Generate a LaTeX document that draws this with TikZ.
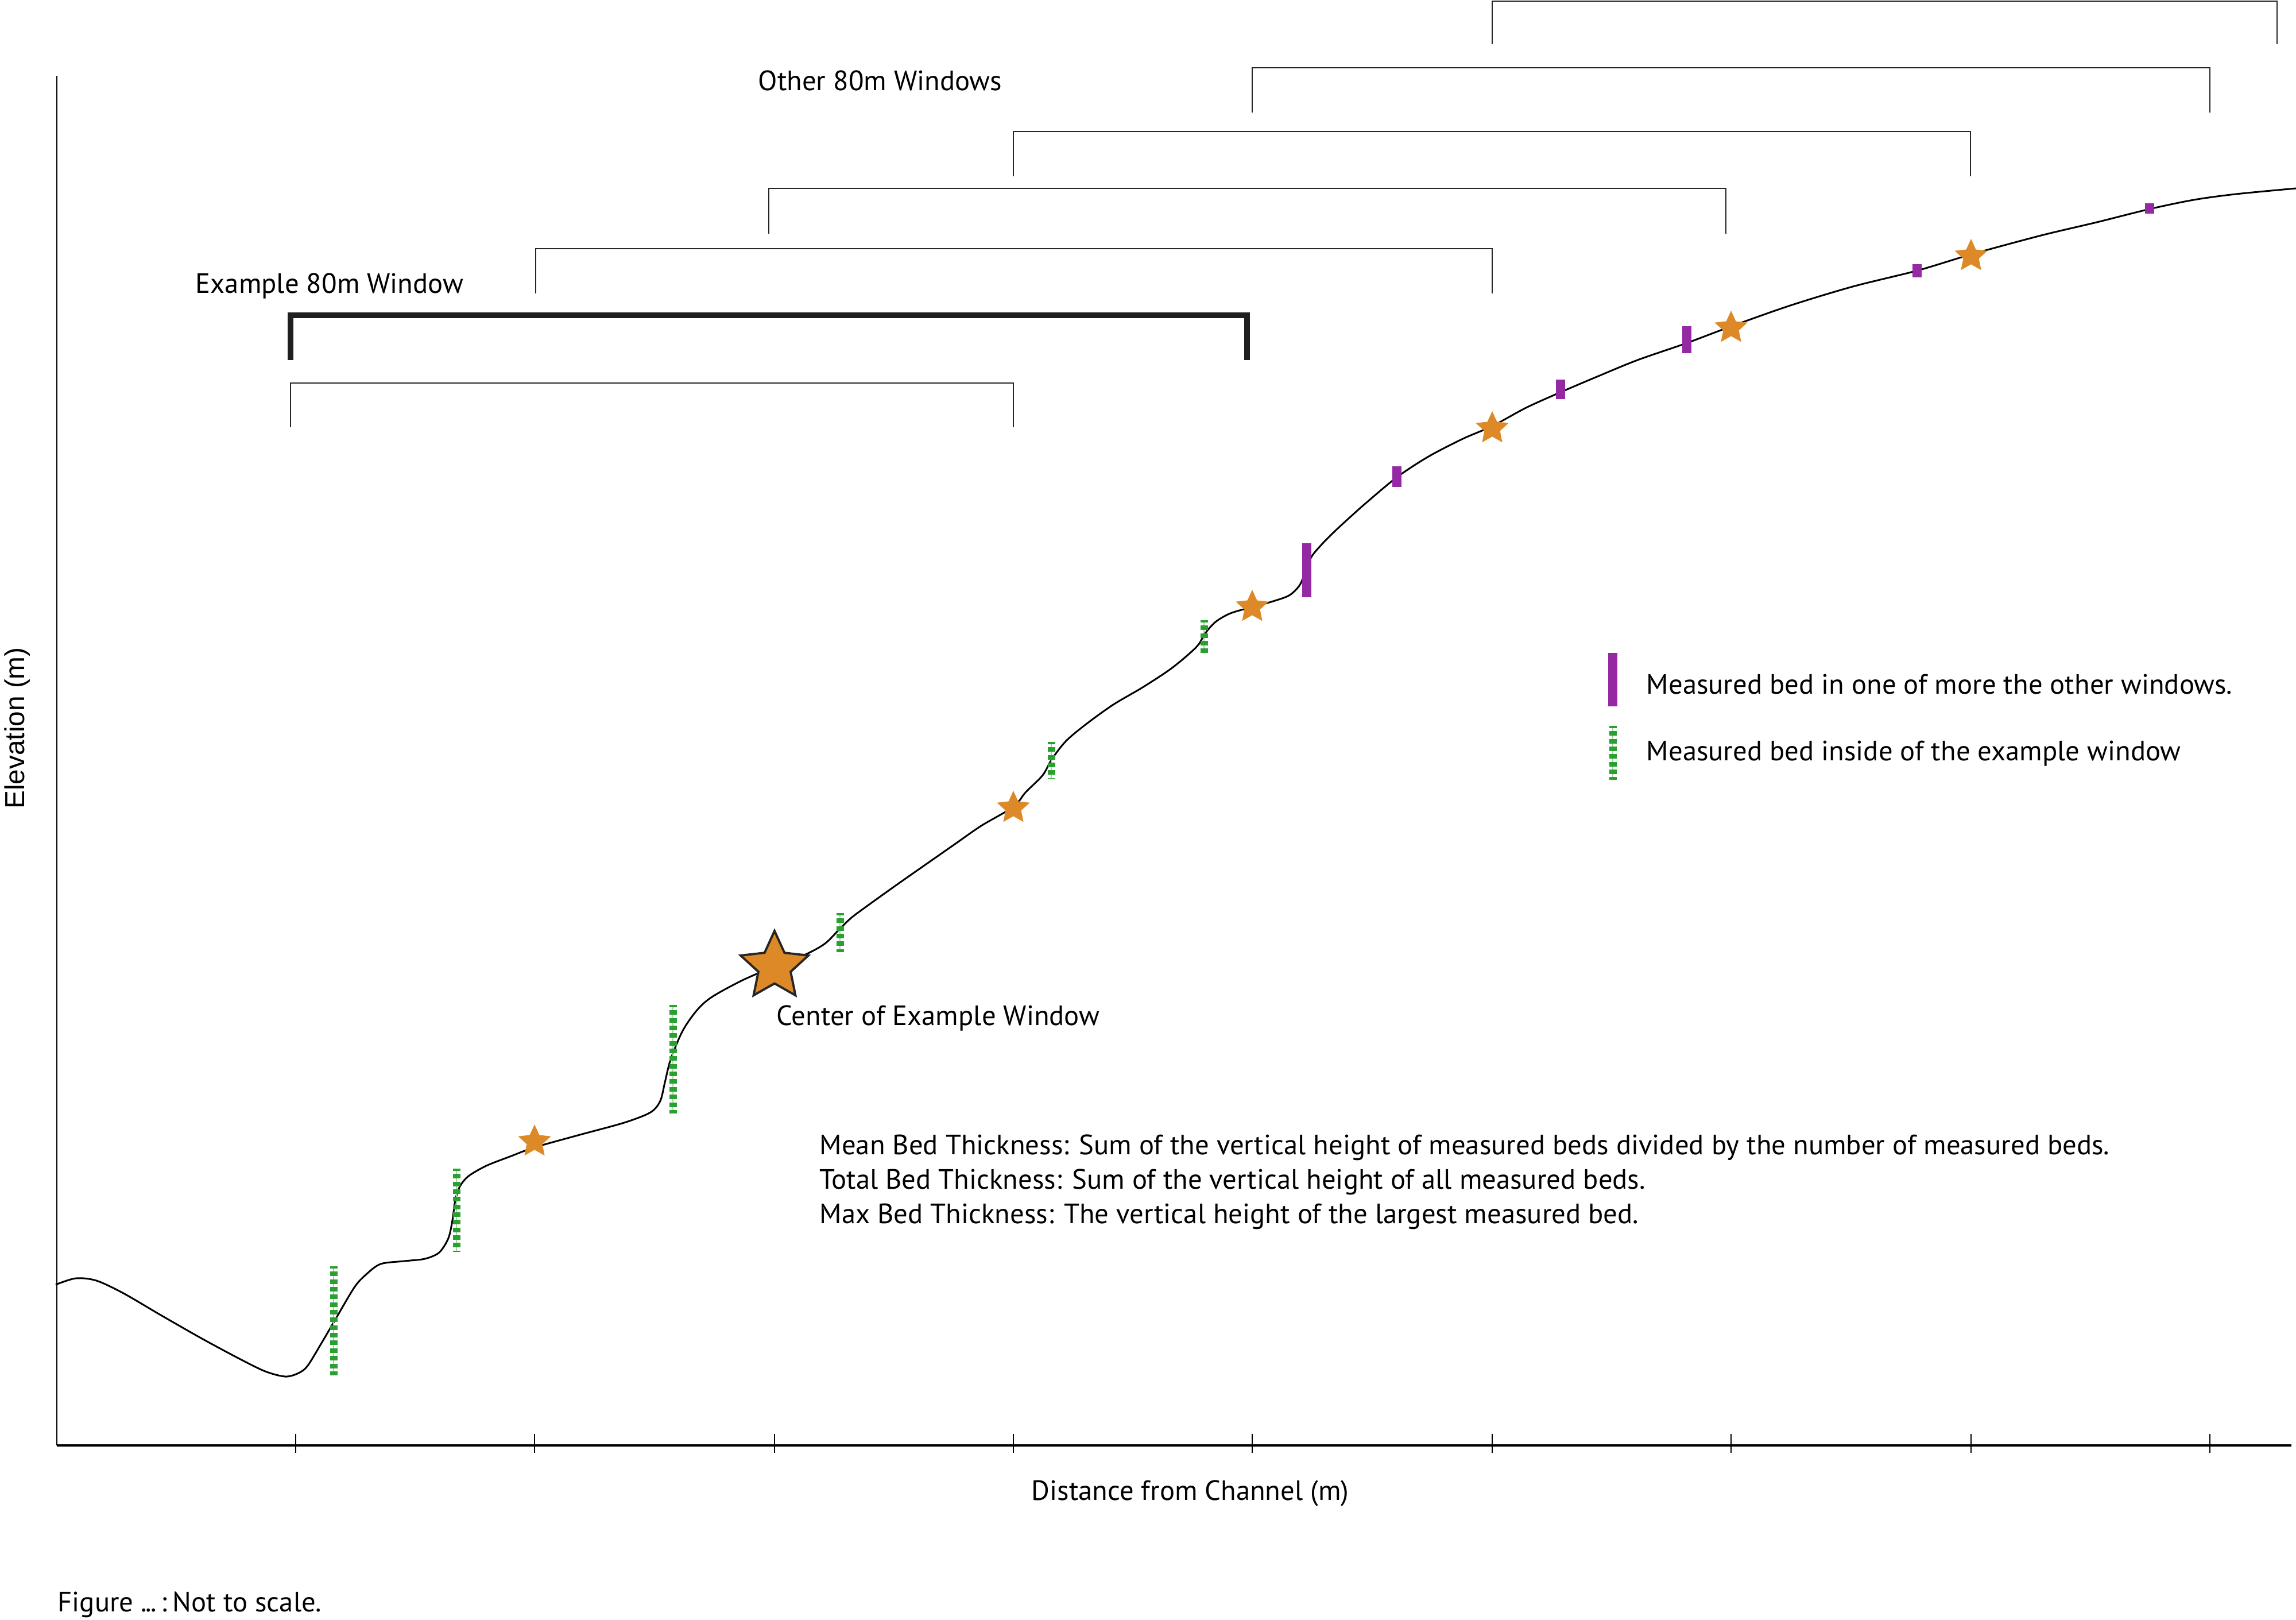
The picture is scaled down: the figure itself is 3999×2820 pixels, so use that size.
\documentclass[tikz,border=0pt]{standalone}
\usepackage{fontspec}
\setmainfont{PT Sans}
\newfontfamily\arialfont{Liberation Sans}
\usetikzlibrary{shapes.geometric}
\definecolor{starorange}{RGB}{221,137,40}
\definecolor{bedpurple}{RGB}{148,41,163}
\definecolor{bedgreen}{RGB}{41,160,48}
\definecolor{bedgreenlight}{RGB}{160,215,160}
\begin{document}
\begin{tikzpicture}[x=0.01cm, y=-0.01cm,
  font=\fontsize{13.85}{17.1}\selectfont,
  bracket/.style={draw=black!85, line width=0.75pt},
  examplebracket/.style={draw=black!88, line width=3.1pt},
  axisline/.style={line width=0.6pt},
  smallstar/.style={star, star points=5, star point ratio=2.1, minimum size=0.6cm, inner sep=0pt, fill=starorange},
  bigstar/.style={smallstar, minimum size=1.24cm, draw=black!85, line width=1.1pt},
  purplebar/.style={line width=4.5pt, draw=bedpurple},
  greenbar/.style={line width=3.7pt, draw=bedgreen, dash pattern=on 2.28pt off 1.52pt, dash phase=1.2pt},
  greenspine/.style={line width=0.4pt, draw=bedgreenlight},
  lbl/.style={anchor=base west, inner sep=0pt}]
\useasboundingbox (0,0) rectangle (3999,2820);

% axes
\draw[axisline] (99,132) -- (99,2517);
\draw[line width=1pt] (99,2517) -- (3991,2517);
\foreach \x in {515,931,1349,1765,2181,2599,3015,3433,3849}
  \draw[axisline] (\x,2497) -- (\x,2530);

% window brackets
\draw[bracket] (2599,77) |- (3966,2) -- (3966,77);
\draw[bracket] (2181,196) |- (3849,118) -- (3849,196);
\draw[bracket] (1765,307) |- (3432,229) -- (3432,307);
\draw[bracket] (1339,407) |- (3006,328) -- (3006,407);
\draw[bracket] (933,511) |- (2599,433) -- (2599,511);
\draw[examplebracket] (506,627) |- (2172,549) -- (2172,627);
\draw[bracket] (506,744) |- (1765,667) -- (1765,744);

% profile curve
\draw[line width=0.85pt] plot[smooth, tension=0.5] coordinates {
 (97,2237) (132,2226) (168,2230) (215,2252) (280,2290) (350,2330) (415,2365)
 (462,2388) (497,2397) (520,2391) (536,2378) (561,2337) (581,2303)
 (617,2242) (638,2219) (663,2201) (704,2196) (740,2192) (765,2181) (781,2156)
 (788,2125) (793,2090) (801,2066) (816,2048) (847,2030) (888,2014) (931,1998)
 (1010,1976) (1087,1955) (1133,1937) (1150,1917) (1158,1885) (1168,1845)
 (1189,1795) (1214,1759) (1240,1736) (1293,1707) (1349,1683) (1403,1662)
 (1437,1643) (1463,1617) (1483,1598) (1507,1580) (1560,1542) (1620,1500)
 (1663,1470) (1709,1438) (1765,1405) (1786,1380) (1816,1350) (1832,1322)
 (1857,1290) (1893,1260) (1939,1227) (1990,1197) (2036,1167) (2066,1143)
 (2087,1123) (2099,1103) (2117,1083) (2143,1068) (2181,1057) (2214,1048)
 (2245,1037) (2263,1020) (2272,1000) (2284,970) (2303,947) (2327,923)
 (2352,900) (2379,876) (2433,831) (2488,795) (2548,764) (2599,742) (2658,710)
 (2718,683) (2779,657) (2852,627) (2936,598) (3016,568) (3118,532) (3227,499)
 (3340,471) (3433,443) (3555,410) (3652,387) (3744,364) (3821,348) (3894,338)
 (3999,328)};

% green beds (inside example window)
\foreach \x/\ya/\yb in {581/2205/2395, 795/2035/2180, 1172/1750/1939,
  1463/1590/1658, 1831/1292/1356, 2097/1080/1138, 2809/1264/1358} {
  \draw[greenspine] (\x,\ya) -- (\x,\yb);
  \draw[greenbar] (\x,\ya) -- (\x,\yb);
}

% purple beds (other windows)
\foreach \x/\ya/\yb in {2276/946/1040, 2433/812/848, 2718/661/695,
  2938/568/615, 3339/460/483, 3744/354/372, 2809/1137/1230}
  \draw[purplebar] (\x,\ya) -- (\x,\yb);

% window centres
\node[smallstar] (s1) at (931,1988) {};
\node[bigstar]   (s2) at (1349,1683) {};
\node[smallstar] (s3) at (1765,1407) {};
\node[smallstar] (s4) at (2181,1057) {};
\node[smallstar] (s5) at (2599,746) {};
\node[smallstar] (s6) at (3015,571) {};
\node[smallstar] (s7) at (3433,446) {};

% labels
\node[lbl] (otherlbl) at (1320,157) {Other 80m Windows};
\node[lbl] (examplelbl) at (340,510) {Example 80m Window};
\node[lbl] (centerlbl) at (1352,1785) {Center of Example Window};
\node[lbl] (leg1) at (2867,1208) {Measured bed in one of more the other windows.};
\node[lbl] (leg2) at (2867,1324) {Measured bed inside of the example window};
\node[lbl] (meanlbl) at (1427,2010) {Mean Bed Thickness: Sum of the vertical height of measured beds divided by the number of measured beds.};
\node[lbl] (totallbl) at (1427,2070) {Total Bed Thickness: Sum of the vertical height of all measured beds.};
\node[lbl] (maxlbl) at (1427,2130) {Max Bed Thickness: The vertical height of the largest measured bed.};
\node[anchor=base, inner sep=0pt] (xlabel) at (2073,2612) {Distance from Channel (m)};
\node[lbl] (figlbl) at (100,2806) {Figure .\kern-0.6pt.\kern-0.6pt.\hspace{0.16em}:\hspace{0.2em}Not to scale.};
\node[rotate=90, anchor=base, inner sep=0pt, font=\arialfont\fontsize{13.6}{16}\selectfont] (ylabel) at (42,1268) {Elevation (m)};
\end{tikzpicture}
\end{document}
